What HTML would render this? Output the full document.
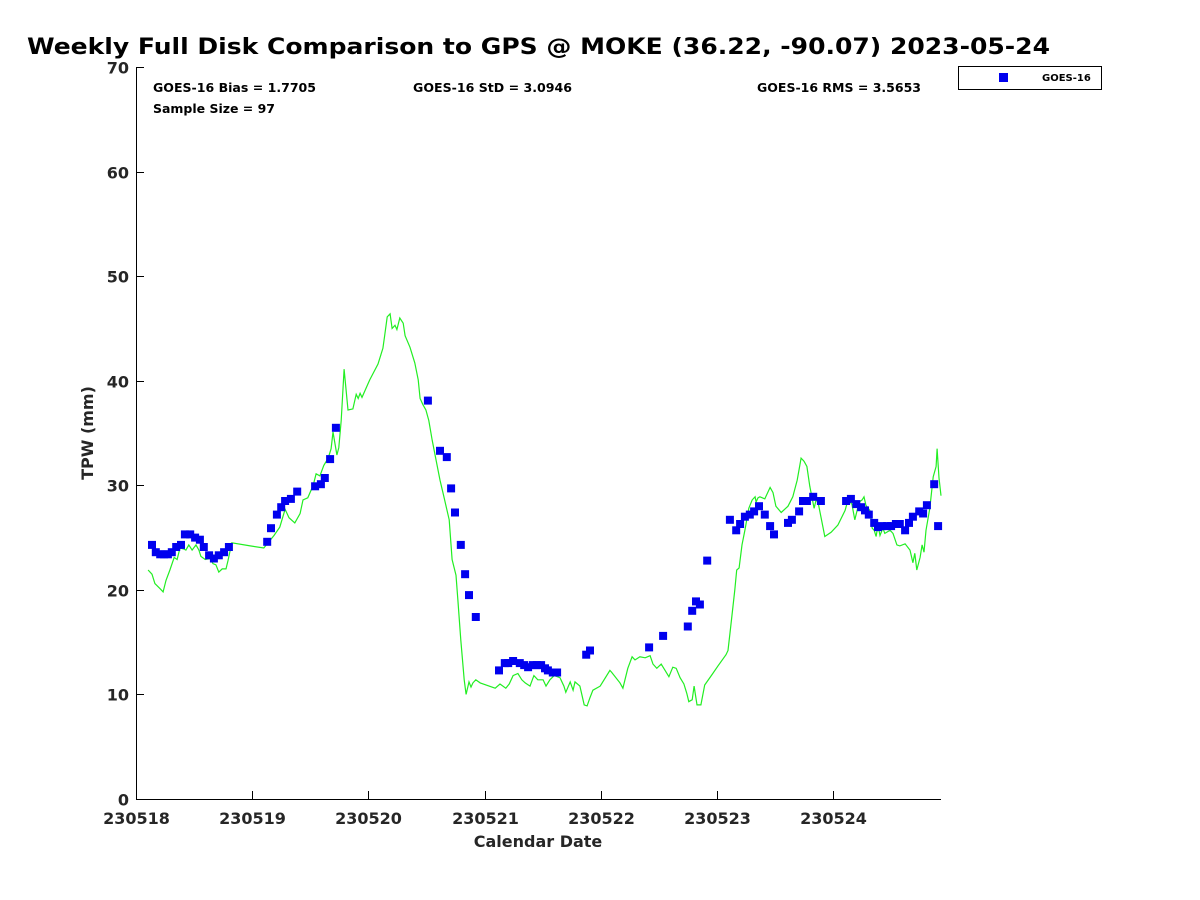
<!DOCTYPE html>
<html><head><meta charset="utf-8"><style>
body{margin:0;background:#fff;}
svg{display:block;font-family:"DejaVu Sans","Liberation Sans",sans-serif;}
</style></head><body>
<svg id="chart" width="1200" height="900">
<text x="27" y="54" font-size="22" font-weight="bold" textLength="1023" lengthAdjust="spacingAndGlyphs">Weekly Full Disk Comparison to GPS @ MOKE (36.22, -90.07) 2023-05-24</text>
<text x="153" y="92" font-size="12" font-weight="bold" textLength="163" lengthAdjust="spacingAndGlyphs">GOES-16 Bias = 1.7705</text>
<text x="153" y="113" font-size="12" font-weight="bold" textLength="122" lengthAdjust="spacingAndGlyphs">Sample Size = 97</text>
<text x="413" y="92" font-size="12" font-weight="bold" textLength="159" lengthAdjust="spacingAndGlyphs">GOES-16 StD = 3.0946</text>
<text x="757" y="92" font-size="12" font-weight="bold" textLength="164" lengthAdjust="spacingAndGlyphs">GOES-16 RMS = 3.5653</text>
<g>
<rect x="958.5" y="66.5" width="143" height="23" fill="#fff" stroke="#000" stroke-width="1"/>
<rect x="999" y="73" width="9" height="9" fill="#0000ee"/>
<text x="1042" y="81" font-size="10" font-weight="bold">GOES-16</text>
</g>
<text x="538" y="847" font-size="16" font-weight="bold" text-anchor="middle" fill="#262626">Calendar Date</text>
<text transform="translate(93,433) rotate(-90)" font-size="16" font-weight="bold" text-anchor="middle" fill="#262626">TPW (mm)</text>
<g id="axes"></g>
<g id="marks"></g>
</svg>
<script>
const xTickLabels=["230518","230519","230520","230521","230522","230523","230524"];
const yTicks=[0,10,20,30,40,50,60,70];
const goesHours=[3.3,4.1,5.0,5.8,6.6,7.4,8.3,9.3,10.1,11.2,12.2,13.2,14.0,15.1,16.1,17.1,18.2,19.2,27.1,27.9,29.1,30.0,30.8,32.0,33.3,37.0,38.2,39.0,40.1,41.3,60.3,62.8,64.2,65.1,65.9,67.1,68.0,68.8,70.2,75.0,76.2,76.9,77.9,79.3,80.2,81.0,82.0,82.8,83.7,84.5,85.1,86.1,87.0,93.0,93.8,106.0,108.9,114.0,114.9,115.7,116.5,118.0,122.7,124.0,124.8,125.8,126.8,127.7,128.7,129.9,131.0,131.8,134.7,135.5,137.0,137.8,138.6,139.9,141.5,146.7,147.7,148.8,149.8,150.6,151.4,152.5,153.3,154.1,155.2,156.0,157.0,157.8,158.9,159.7,160.5,161.8,162.6,163.4,164.9,165.7];
const goesTPW=[24.3,23.6,23.4,23.4,23.4,23.6,24.1,24.3,25.3,25.3,25.0,24.8,24.1,23.3,23.0,23.3,23.6,24.1,24.6,25.9,27.2,27.9,28.5,28.7,29.4,29.9,30.1,30.7,32.5,35.5,38.1,33.3,32.7,29.7,27.4,24.3,21.5,19.5,17.4,12.3,13.0,13.0,13.2,13.0,12.8,12.6,12.8,12.8,12.8,12.5,12.3,12.1,12.1,13.8,14.2,14.5,15.6,16.5,18.0,18.9,18.6,22.8,26.7,25.7,26.3,27.0,27.2,27.5,28.0,27.2,26.1,25.3,26.4,26.7,27.5,28.5,28.5,28.9,28.5,28.5,28.7,28.2,27.9,27.6,27.2,26.4,26.0,26.1,26.1,26.1,26.3,26.3,25.7,26.4,27.0,27.5,27.3,28.1,30.1,26.1];
const gpsHours=[2.5,3.3,3.9,5.0,5.6,6.2,7.0,7.9,8.5,9.1,9.9,10.3,10.9,11.6,12.4,13.0,13.4,14.3,15.3,15.9,16.5,17.1,17.8,18.6,19.0,19.8,23.6,26.4,27.3,28.5,29.7,30.8,31.6,32.8,33.9,34.5,35.5,36.6,37.2,38.0,38.8,39.7,40.3,40.7,41.5,41.9,42.4,43.0,43.8,44.8,45.5,45.9,46.3,46.7,48.3,50.0,51.0,51.4,51.9,52.5,52.9,53.5,53.9,54.5,55.2,55.6,56.6,57.6,58.3,58.7,59.3,59.9,60.5,61.2,62.0,62.8,63.6,64.7,65.3,66.1,66.5,67.1,67.8,68.2,68.8,69.2,69.6,70.2,71.1,74.2,75.2,76.4,77.1,77.9,78.9,79.7,80.4,81.4,82.2,83.0,84.1,84.7,85.5,86.4,87.6,88.4,88.8,89.7,90.3,90.7,91.7,92.6,93.2,93.8,94.4,95.9,97.9,98.3,100.0,100.6,101.6,102.5,103.1,104.1,105.2,106.2,106.8,107.6,108.5,109.3,110.1,110.9,111.6,112.4,113.2,113.8,114.2,114.9,115.3,115.9,116.3,116.7,117.5,119.0,120.2,121.9,122.3,122.7,123.1,123.7,124.1,124.6,125.2,125.8,126.6,127.3,127.9,128.1,128.5,128.9,129.9,131.0,131.6,132.2,133.3,134.7,135.7,136.6,137.4,138.0,138.6,139.2,140.1,140.5,140.9,142.3,143.6,145.0,146.5,147.1,147.9,148.5,149.4,150.0,150.4,150.8,151.6,152.1,152.5,152.9,153.3,153.7,154.3,154.7,155.8,156.4,157.2,157.8,158.9,159.9,160.5,160.9,161.3,162.0,162.4,162.8,163.2,164.0,164.7,165.3,165.5,165.9,166.3];
const gpsTPW=[21.9,21.5,20.6,20.1,19.8,20.9,21.9,23.1,22.9,24.0,23.9,23.8,24.3,23.8,24.3,23.8,23.2,22.9,23.0,22.5,22.4,21.7,22.0,22.0,22.8,24.5,24.2,24.0,24.5,25.2,26.0,27.7,26.9,26.4,27.3,28.6,28.8,30.0,31.1,30.9,31.9,32.6,33.5,35.1,32.9,33.6,36.2,41.1,37.2,37.3,38.7,38.3,38.8,38.4,40.1,41.6,43.1,44.4,46.1,46.4,45.0,45.3,44.9,46.0,45.5,44.3,43.2,41.7,40.1,38.3,37.7,37.2,36.2,34.3,32.4,30.5,28.9,26.7,22.9,21.4,19.0,15.2,11.4,10.0,11.2,10.7,11.1,11.4,11.1,10.6,11.0,10.6,11.0,11.8,12.0,11.4,11.1,10.8,11.8,11.4,11.4,10.8,11.4,11.8,11.6,10.8,10.2,11.2,10.4,11.2,10.8,9.0,8.9,9.7,10.4,10.8,12.3,12.1,11.1,10.6,12.5,13.6,13.3,13.6,13.5,13.7,12.9,12.5,12.9,12.3,11.7,12.6,12.5,11.6,11.0,10.1,9.3,9.5,10.8,9.0,9.0,9.0,10.9,11.9,12.7,13.8,14.2,15.8,17.5,20.0,21.9,22.1,24.3,25.7,27.8,28.6,28.9,28.4,28.8,28.9,28.7,29.8,29.3,28.0,27.4,28.0,28.9,30.5,32.6,32.3,31.8,29.9,27.8,28.6,28.4,25.1,25.5,26.2,27.6,28.6,28.2,26.7,28.4,28.6,28.9,28.1,27.6,25.9,25.7,25.1,26.2,25.2,25.9,25.4,25.7,25.4,24.3,24.2,24.4,23.8,22.6,23.5,21.9,23.1,24.3,23.6,25.7,27.8,30.8,31.8,33.5,30.7,29.0];

const NS="http://www.w3.org/2000/svg";
const X0=136,X1=941,Y0=799,Y1=67,DAYPX=116.17;
function xs(h){return X0+h/24*DAYPX;}
function ys(v){return Y0-(v-yTicks[0])/(yTicks[yTicks.length-1]-yTicks[0])*(Y0-Y1);}
function mk(tag,attrs,parent){const e=document.createElementNS(NS,tag);for(const k in attrs)e.setAttribute(k,attrs[k]);parent.appendChild(e);return e;}
const axes=document.getElementById('axes'),marks=document.getElementById('marks');

const yAxis=mk('line',{x1:X0+0.5,y1:Y1,x2:X0+0.5,y2:Y0+0.5,stroke:'#000','stroke-width':1},axes);


const xAxis=mk('line',{x1:X0,y1:Y0+0.5,x2:X1,y2:Y0+0.5,stroke:'#000','stroke-width':1},axes);



yTicks.forEach(v=>{
  const y=Math.round(ys(v))+0.5;
  const t=mk('line',{x1:X0,y1:y,x2:X0+8,y2:y,stroke:'#000'},axes);
  
  
  const l=mk('text',{x:X0-7,y:y+6,'font-size':16,'font-weight':'bold','text-anchor':'end',fill:'#262626'},axes);
  l.textContent=v;
  
  
});
xTickLabels.forEach((lab,i)=>{
  const x=Math.round(xs(i*24))+0.5;
  const t=mk('line',{x1:x,y1:Y0,x2:x,y2:Y0-8,stroke:'#000'},axes);
  
  
  const l=mk('text',{x:x,y:Y0+25,'font-size':16,'font-weight':'bold','text-anchor':'middle',fill:'#262626'},axes);
  l.textContent=lab;
  
  
});

const pts=gpsHours.map((h,i)=>xs(h).toFixed(1)+','+ys(gpsTPW[i]).toFixed(1)).join(' ');
const line=mk('polyline',{points:pts,fill:'none',stroke:'#22ee22','stroke-width':1.2},marks);



goesHours.forEach((h,i)=>{
  const r=mk('rect',{x:(xs(h)-4).toFixed(1),y:(ys(goesTPW[i])-4).toFixed(1),width:8,height:8,fill:'#0000ee'},marks);
  
  
});
</script>
</body></html>
